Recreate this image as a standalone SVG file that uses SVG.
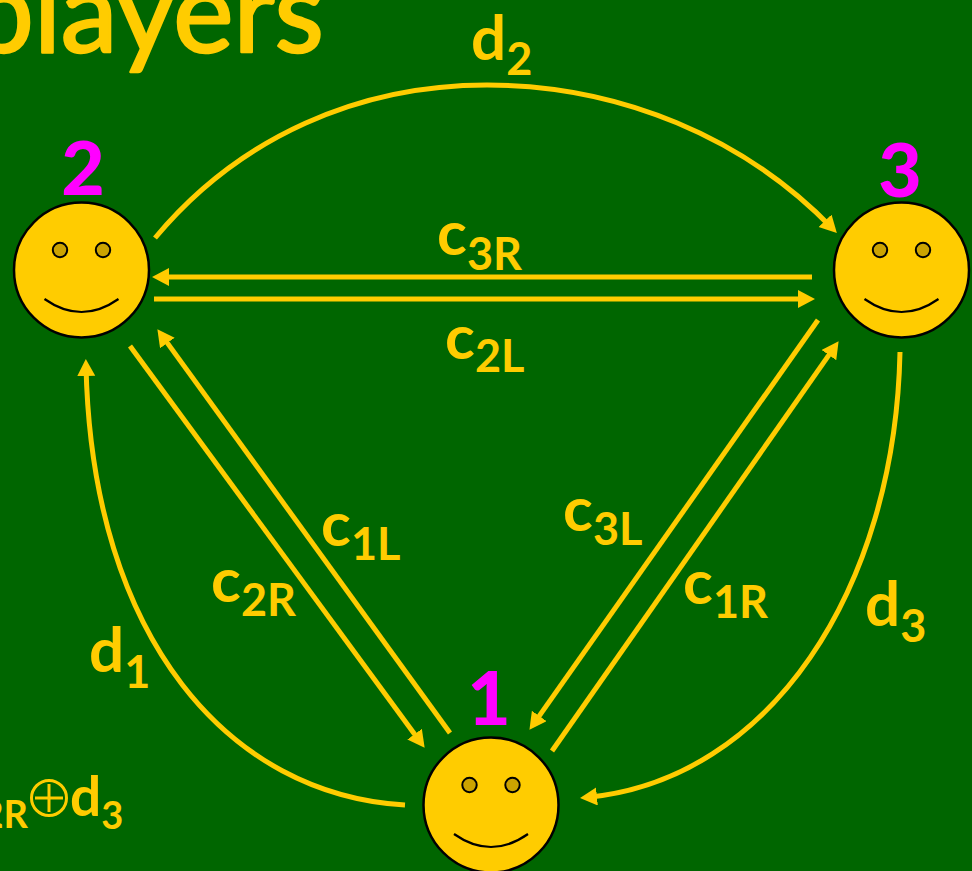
<svg xmlns="http://www.w3.org/2000/svg" width="972" height="871" viewBox="0 0 972 871">
<style>
text{font-family:"Comic Sans MS","Lato","Noto Sans",sans-serif;font-weight:700;fill:#FFCC00}
.l{font-size:62px}
.s{font-size:45px}
.n{font-size:75px;fill:#FF00FF;text-anchor:middle;font-weight:900}
.c{fill:none;stroke:#FFCC00;stroke-width:5;marker-end:url(#a)}
.f{fill:#FFCC00;stroke:#000;stroke-width:2.5}
.e{fill:#CCA300;stroke:#000;stroke-width:2}
.m{fill:none;stroke:#000;stroke-width:2.2}
</style>
<defs>
<marker id="a" markerUnits="userSpaceOnUse" markerWidth="19" markerHeight="19" refX="10" refY="9" orient="auto"><path d="M0 0L17 9L0 18Z" fill="#FFCC00"/></marker>
<g id="face"><circle class="f" cx="0" cy="0" r="67.5"/><circle class="e" cx="-21.5" cy="-20" r="7.2"/><circle class="e" cx="21.5" cy="-20" r="7.2"/><path class="m" d="M-37 29Q0 55 37 29"/></g>
</defs>
<rect width="972" height="871" fill="#006600"/>
<text id="title" x="324" y="52" text-anchor="end" style="font-size:114px;font-weight:400;stroke:#FFCC00;stroke-width:2.5;stroke-linejoin:round">players</text>
<g id="connectors">
<path class="c" d="M155 238C240 136 360 85 487 85C620 85 745 138 832 228"/>
<path class="c" d="M812 277H159"/>
<path class="c" d="M154 299H808"/>
<path class="c" d="M130 346L420.500 742.200"/>
<path class="c" d="M450 733L161.500 334.900"/>
<path class="c" d="M818 320L533.500 724.100"/>
<path class="c" d="M552 751L834.600 346.900"/>
<path class="c" d="M405 805C230 795 92 640 86 366"/>
<path class="c" d="M900 352C895 590 770 780 587 797.400"/>
</g>
<g id="labels">
<text class="l" x="471" y="60">d<tspan class="s" dy="15">2</tspan></text>
<text class="l" x="437" y="255">c<tspan class="s" dy="15">3R</tspan></text>
<text class="l" x="445" y="359">c<tspan class="s" dy="13">2L</tspan></text>
<text class="l" x="321" y="546">c<tspan class="s" dy="14">1L</tspan></text>
<text class="l" x="211" y="602">c<tspan class="s" dy="14">2R</tspan></text>
<text class="l" x="563" y="531">c<tspan class="s" dy="14">3L</tspan></text>
<text class="l" x="683" y="604">c<tspan class="s" dy="14">1R</tspan></text>
<text class="l" x="89" y="672">d<tspan class="s" dy="16">1</tspan></text>
<text class="l" x="865" y="626">d<tspan class="s" dy="16">3</tspan></text>
<text x="28" y="828" text-anchor="end" style="font-size:38px">2R</text>
<text x="70" y="816" style="font-size:55px">d<tspan style="font-size:38px" dy="13">3</tspan></text>
<g id="xor" fill="none" stroke="#FFCC00" stroke-width="3"><circle cx="49" cy="798" r="17.500"/><path d="M35 798H63M49 784V812"/></g>
</g>
<g id="node2"><use href="#face" x="81.500" y="270"/><text class="n" x="83" y="195">2</text></g>
<g id="node3"><use href="#face" x="901.500" y="270"/><text class="n" x="900" y="197">3</text></g>
<g id="node1"><use href="#face" x="491" y="805"/><text class="n" x="489" y="725">1</text></g>
</svg>
